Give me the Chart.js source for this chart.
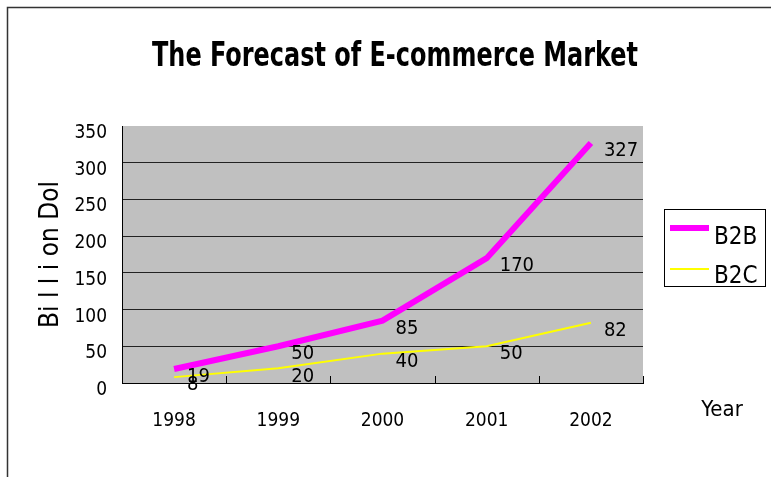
<!DOCTYPE html>
<html>
<head>
<meta charset="utf-8">
<script src="https://cdn.jsdelivr.net/npm/chart.js@4"></script>
<style>
  html, body { margin: 0; padding: 0; background: #fff; }
  #wrap { position: relative; width: 771px; height: 477px; }
</style>
</head>
<body>
<div id="wrap"><canvas id="chart" width="771" height="477"></canvas></div>
<script>
// data
const years = ['1998', '1999', '2000', '2001', '2002'];
const b2b = [19, 50, 85, 170, 327];
const b2c = [8, 20, 40, 50, 82];
const yTicks = [0, 50, 100, 150, 200, 250, 300, 350];
const chartTitle = 'The Forecast of E-commerce Market';

const FONT = "'DejaVu Sans Condensed', 'DejaVu Sans', sans-serif";

// frame, plot background, title, inner x ticks, value labels, legend, "Year"
const decor = {
  id: 'decor',
  beforeDraw(chart) {
    const ctx = chart.ctx;
    const a = chart.chartArea;
    ctx.save();
    ctx.fillStyle = '#fff';
    ctx.fillRect(0, 0, chart.width, chart.height);
    ctx.strokeStyle = '#333';
    ctx.lineWidth = 1.5;
    ctx.beginPath();
    ctx.moveTo(7.5, chart.height);
    ctx.lineTo(7.5, 7.5);
    ctx.lineTo(chart.width, 7.5);
    ctx.stroke();
    ctx.fillStyle = '#c0c0c0';
    ctx.fillRect(a.left, a.top, a.right - a.left, a.bottom - a.top);

    // title, squeezed to the narrow width of the original
    ctx.fillStyle = '#000';
    ctx.font = 'bold 34px ' + FONT;
    ctx.textAlign = 'center';
    ctx.textBaseline = 'middle';
    ctx.fillText(chartTitle, 395, 57, 486);
    ctx.restore();
  },
  afterDatasetsDraw(chart) {
    const ctx = chart.ctx;
    const a = chart.chartArea;
    const xs = chart.scales.x;
    ctx.save();
    // small ticks pointing up between categories
    ctx.strokeStyle = '#000';
    ctx.lineWidth = 1;
    ctx.beginPath();
    for (let i = 0; i <= years.length; i++) {
      const x = Math.round(xs.getPixelForValue(i - 0.5)) + 0.5;
      ctx.moveTo(x, a.bottom - 7);
      ctx.lineTo(x, a.bottom);
    }
    ctx.stroke();

    // value labels next to each point
    ctx.fillStyle = '#000';
    ctx.font = '20px ' + FONT;
    ctx.textAlign = 'left';
    ctx.textBaseline = 'middle';
    chart.data.datasets.forEach((ds, di) => {
      const meta = chart.getDatasetMeta(di);
      meta.data.forEach((pt, i) => {
        ctx.fillText(String(ds.data[i]), pt.x + 13, pt.y + 8);
      });
    });

    // legend box
    ctx.fillStyle = '#fff';
    ctx.fillRect(664, 209, 101, 77);
    ctx.strokeStyle = '#000';
    ctx.lineWidth = 1;
    ctx.strokeRect(664.5, 209.5, 101, 77);
    const rows = [{ y: 228, ty: 238 }, { y: 269, ty: 277 }];
    chart.data.datasets.forEach((ds, di) => {
      const r = rows[di];
      ctx.strokeStyle = ds.borderColor;
      ctx.lineWidth = ds.borderWidth;
      ctx.beginPath();
      ctx.moveTo(670, r.y);
      ctx.lineTo(709, r.y);
      ctx.stroke();
      ctx.fillStyle = '#000';
      ctx.font = '24px ' + FONT;
      ctx.fillText(ds.label, 714, r.ty);
    });

    // x axis name, right of the plot
    ctx.font = '22px ' + FONT;
    ctx.textAlign = 'center';
    ctx.fillText('Year', 722, 410);
    ctx.restore();
  }
};

new Chart(document.getElementById('chart'), {
  type: 'line',
  data: {
    labels: years,
    datasets: [
      {
        label: 'B2B',
        data: b2b,
        borderColor: '#ff00ff',
        borderWidth: 6,
        pointRadius: 0,
        tension: 0
      },
      {
        label: 'B2C',
        data: b2c,
        borderColor: '#ffff00',
        borderWidth: 2,
        pointRadius: 0,
        tension: 0
      }
    ]
  },
  options: {
    responsive: false,
    animation: false,
    layout: { padding: { left: 0, top: 126, right: 128, bottom: 34 } },
    plugins: {
      legend: { display: false },
      tooltip: { enabled: false },
      title: { display: false }
    },
    scales: {
      x: {
        offset: true,
        grid: { display: false },
        border: { color: '#000', width: 1 },
        ticks: { color: '#000', font: { family: FONT, size: 19 }, padding: 19, maxRotation: 0 },
        afterFit(scale) { scale.height = 60; }
      },
      y: {
        min: 0,
        max: 350,
        afterBuildTicks(scale) { scale.ticks = yTicks.map(v => ({ value: v })); },
        grid: {
          color: ctx => ctx.tick && ctx.tick.value === 350 ? 'rgba(0,0,0,0)' : '#222',
          drawTicks: false
        },
        border: { color: '#000', width: 1 },
        ticks: { color: '#000', font: { family: FONT, size: 19 }, padding: 15, labelOffset: 7 },
        title: {
          display: true,
          text: 'Bi l l i on Dol',
          color: '#000',
          font: { family: FONT, size: 26 },
          padding: { top: 36, bottom: 0 }
        },
        afterFit(scale) { scale.width = 122; }
      }
    }
  },
  plugins: [decor]
});
</script>
</body>
</html>
